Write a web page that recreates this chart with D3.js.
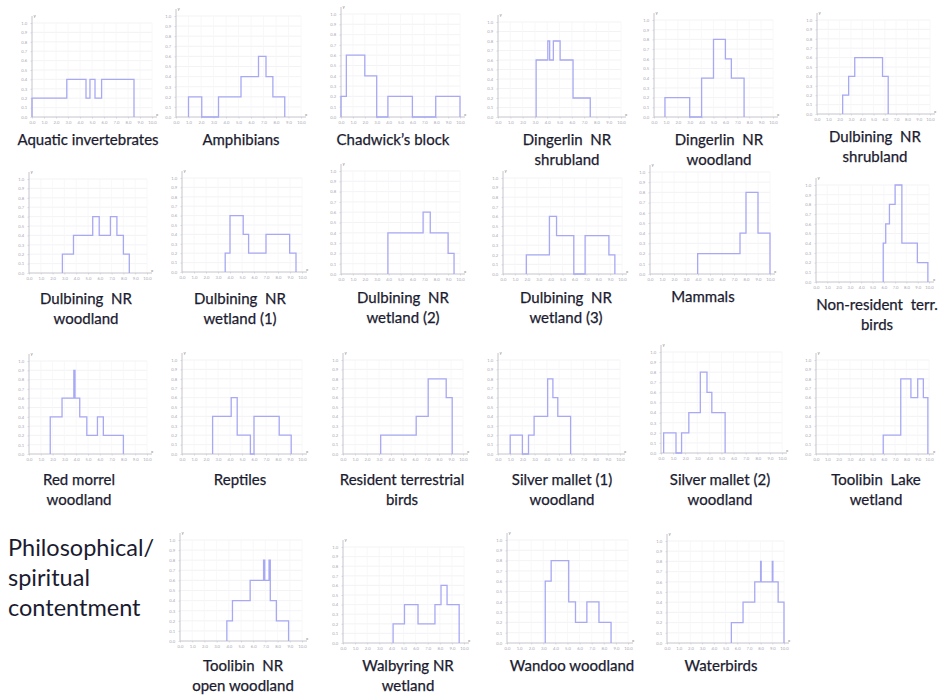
<!DOCTYPE html>
<html>
<head>
<meta charset="utf-8">
<script src="https://cdn.jsdelivr.net/npm/d3@7"></script>
<style>
  html, body { margin: 0; padding: 0; background: #fff; }
  svg { display: block; }
</style>
</head>
<body>
<div id="chart"></div>
<script>
// Small-multiple step histograms, one per habitat / group

// Each series: [x, level] pairs, level holds until the next x; last pair drops to 0
const aquaticInvertebrates = [[0, 0.2], [2.9, 0.4], [4.5, 0.2], [4.83, 0.4], [5.25, 0.2], [5.8, 0.4], [8.5, 0]];
const amphibians = [[1.0, 0.2], [2.06, 0], [3.4, 0.2], [5.2, 0.4], [6.6, 0.6], [7.2, 0.4], [7.75, 0.2], [8.7, 0]];
const chadwicksBlock = [[0, 0.2], [0.45, 0.6], [2.0, 0.4], [3.0, 0], [3.94, 0.2], [6.0, 0], [7.96, 0.2], [10, 0]];
const dingerlinShrubland = [[3.1, 0.6], [4.05, 0.8], [4.2, 0.6], [4.5, 0.8], [5.05, 0.6], [6.1, 0.2], [7.5, 0]];
const dingerlinWoodland = [[0.92, 0.2], [3.0, 0], [4.0, 0.4], [5.0, 0.8], [6.0, 0.6], [6.5, 0.4], [7.57, 0]];
const dulbiningShrubland = [[2.27, 0.2], [2.8, 0.4], [3.34, 0.6], [5.8, 0.4], [6.3, 0]];
const dulbiningWoodland = [[2.83, 0.2], [3.77, 0.4], [5.4, 0.6], [5.95, 0.4], [6.9, 0.6], [7.45, 0.4], [8.0, 0.2], [8.5, 0]];
const dulbiningWetland1 = [[3.6, 0.2], [4.0, 0.6], [5.1, 0.4], [5.55, 0.2], [7.0, 0.4], [8.97, 0.2], [9.5, 0]];
const dulbiningWetland2 = [[3.94, 0.4], [6.9, 0.6], [7.5, 0.4], [9.0, 0.2], [9.5, 0]];
const dulbiningWetland3 = [[1.96, 0.2], [3.9, 0.6], [4.5, 0.4], [5.95, 0], [6.9, 0.4], [8.9, 0.2], [9.4, 0]];
const mammals = [[3.97, 0.2], [7.5, 0.4], [8.0, 0.8], [9.0, 0.4], [10, 0]];
const nonResidentBirds = [[5.95, 0.4], [6.17, 0.6], [6.5, 0.8], [7.0, 1.0], [7.6, 0.4], [8.97, 0.2], [9.9, 0]];
const redMorrel = [[1.8, 0.4], [2.8, 0.6], [3.8, 0.9], [3.9, 0.6], [4.3, 0.4], [4.9, 0.2], [5.8, 0.4], [6.3, 0.2], [8.0, 0]];
const reptiles = [[2.55, 0.4], [4.1, 0.6], [4.6, 0.2], [5.7, 0], [6.0, 0.4], [8.1, 0.2], [9.1, 0]];
const residentBirds = [[3.14, 0.2], [6.1, 0.4], [7.1, 0.8], [8.6, 0.6], [9.1, 0]];
const silverMallet1 = [[1.0, 0.2], [2.0, 0], [2.5, 0.2], [2.96, 0.4], [4.07, 0.8], [4.5, 0.6], [4.9, 0.4], [5.95, 0]];
const silverMallet2 = [[0.22, 0.2], [1.24, 0], [1.7, 0.2], [2.3, 0.4], [3.25, 0.8], [3.8, 0.6], [4.2, 0.4], [5.3, 0]];
const toolibinLake = [[5.95, 0.2], [7.5, 0.8], [8.4, 0.6], [9.0, 0.8], [9.5, 0.6], [9.9, 0]];
const toolibinNR = [[3.84, 0.2], [4.3, 0.4], [5.75, 0.6], [6.85, 0.8], [6.95, 0.6], [7.3, 0.8], [7.4, 0.4], [7.9, 0.2], [8.9, 0]];
const walbyring = [[4.14, 0.2], [5.08, 0.4], [6.2, 0.2], [7.6, 0.4], [8.1, 0.6], [8.6, 0.4], [9.6, 0]];
const wandoo = [[3.16, 0.6], [3.65, 0.8], [5.1, 0.4], [5.66, 0.2], [6.6, 0.4], [7.6, 0.2], [8.6, 0]];
const waterbirds = [[5.5, 0.2], [6.5, 0.4], [7.5, 0.6], [8.0, 0.8], [8.05, 0.6], [9.0, 0.8], [9.05, 0.6], [9.5, 0.4], [10, 0]];

const titles = [
  ["Aquatic invertebrates"], ["Amphibians"], ["Chadwick\u2019s block"],
  ["Dingerlin  NR", "shrubland"], ["Dingerlin  NR", "woodland"], ["Dulbining  NR", "shrubland"],
  ["Dulbining  NR", "woodland"], ["Dulbining  NR", "wetland (1)"], ["Dulbining  NR", "wetland (2)"],
  ["Dulbining  NR", "wetland (3)"], ["Mammals"], ["Non-resident  terr.", "birds"],
  ["Red morrel", "woodland"], ["Reptiles"], ["Resident terrestrial", "birds"],
  ["Silver mallet (1)", "woodland"], ["Silver mallet (2)", "woodland"], ["Toolibin  Lake", "wetland"],
  ["Toolibin  NR", "open woodland"], ["Walbyring NR", "wetland"], ["Wandoo woodland"], ["Waterbirds"]
];

const series = [
  aquaticInvertebrates, amphibians, chadwicksBlock, dingerlinShrubland, dingerlinWoodland, dulbiningShrubland,
  dulbiningWoodland, dulbiningWetland1, dulbiningWetland2, dulbiningWetland3, mammals, nonResidentBirds,
  redMorrel, reptiles, residentBirds, silverMallet1, silverMallet2, toolibinLake,
  toolibinNR, walbyring, wandoo, waterbirds
];

const xTicks = [0, 1, 2, 3, 4, 5, 6, 7, 8, 9, 10];
const yTicks = [0, 0.1, 0.2, 0.3, 0.4, 0.5, 0.6, 0.7, 0.8, 0.9, 1.0];
const heading = ["Philosophical/", "spiritual", "contentment"];

// panel placement: y-axis x, x-axis y, width of 0..10, height of 0..1, title centre x, title top y
const layout = [
  [32, 117, 120, 94, 88, 145], [176, 117, 125, 101, 241, 145], [341, 117, 119, 103, 393, 145],
  [498, 117, 123, 95, 567, 145], [654, 117, 119, 97, 719, 145], [817, 114, 113, 94, 875, 142],
  [29, 273, 118, 94, 86, 304], [182, 272, 120, 94, 240, 304], [341, 274, 119, 103, 403, 303],
  [503, 274, 119, 96, 566, 303], [650, 274, 120, 102, 703, 302], [816, 282, 113, 97, 877, 310],
  [29, 454, 118, 93, 79, 485], [182, 454, 120, 94, 240, 485], [343, 454, 120, 94, 402, 485],
  [498, 454, 122, 94, 562, 485], [661, 453, 121, 101, 720, 485], [816, 454, 113, 94, 876, 485],
  [180, 641, 122, 101, 243, 671], [343, 643, 121, 96, 408, 671], [507, 643, 121, 103, 572, 671], [667, 643, 117, 102, 721, 671]
];

const W = 940, H = 697;
const lineColor = "#a8a8f4";
const textColor = "#1b1b30";
const fontFamily = "Lato, 'Noto Sans', sans-serif";

const svg = d3.select("#chart").append("svg")
  .attr("width", W)
  .attr("height", H);

svg.append("rect").attr("width", W).attr("height", H).attr("fill", "#fff");

series.forEach((data, i) => {
  const [x0, base, w, h, labelX, labelY] = layout[i];
  const x = d3.scaleLinear().domain([0, 10]).range([x0, x0 + w]);
  const y = d3.scaleLinear().domain([0, 1]).range([base, base - h]);
  const g = svg.append("g");

  // faint grid
  g.append("g").selectAll("line").data(yTicks.slice(1)).enter().append("line")
    .attr("x1", x(0)).attr("x2", x(10))
    .attr("y1", d => y(d)).attr("y2", d => y(d))
    .attr("stroke", "#f0f0f4").attr("stroke-width", 0.8);
  g.append("g").selectAll("line").data(xTicks.slice(1)).enter().append("line")
    .attr("x1", d => x(d)).attr("x2", d => x(d))
    .attr("y1", y(0)).attr("y2", y(1))
    .attr("stroke", "#f6f6f8").attr("stroke-width", 0.8);

  // axes
  const xAxis = d3.axisBottom(x).tickValues(xTicks).tickFormat(d3.format(".1f")).tickSize(1.5);
  const yAxis = d3.axisLeft(y).tickValues(yTicks).tickFormat(d3.format(".1f")).tickSize(1.5);

  const gx = g.append("g").attr("transform", `translate(0,${base})`).call(xAxis);
  const gy = g.append("g").attr("transform", `translate(${x0},0)`).call(yAxis);
  [gx, gy].forEach(a => {
    a.select(".domain").remove();
    a.selectAll("line").attr("stroke", "#c4c4cc").attr("stroke-width", 0.6);
    a.selectAll("text").attr("fill", "#a8a8b4").attr("font-size", 4.2).attr("font-family", fontFamily);
  });
  gx.selectAll("text").attr("dy", "0.5em");
  gy.selectAll("text").attr("dx", "-0.1em");

  g.append("line")
    .attr("x1", x0).attr("x2", x0)
    .attr("y1", base).attr("y2", y(1) - 7)
    .attr("stroke", "#c0c0c8").attr("stroke-width", 0.9);
  g.append("line")
    .attr("x1", x0).attr("x2", x(10) + 5)
    .attr("y1", base).attr("y2", base)
    .attr("stroke", "#c0c0c8").attr("stroke-width", 0.9);
  g.append("text").attr("x", x0 + 1.5).attr("y", y(1) - 6)
    .attr("font-size", 4.5).attr("fill", "#888").attr("font-family", fontFamily).text("y");
  g.append("text").attr("x", x(10) + 4).attr("y", base - 1.5)
    .attr("font-size", 4.5).attr("fill", "#888").attr("font-family", fontFamily).text("x");

  // step line
  const pts = [[data[0][0], 0]].concat(data);
  const line = d3.line()
    .x(d => x(d[0]))
    .y(d => y(d[1]))
    .curve(d3.curveStepAfter);
  g.append("path")
    .attr("d", line(pts))
    .attr("fill", "none")
    .attr("stroke", lineColor)
    .attr("stroke-width", 1.3);

  // title
  const t = g.append("text")
    .attr("text-anchor", "middle")
    .attr("font-family", fontFamily)
    .attr("font-size", 15)
    .attr("fill", textColor)
    .attr("stroke", textColor)
    .attr("stroke-width", 0.25);
  titles[i].forEach((s, k) => {
    t.append("tspan")
      .attr("x", labelX)
      .attr("y", labelY + k * 19.5)
      .attr("xml:space", "preserve")
      .text(s);
  });
});

// row heading on the left
const hd = svg.append("text")
  .attr("font-family", fontFamily)
  .attr("font-size", 23.5)
  .attr("fill", textColor);
heading.forEach((s, k) => {
  hd.append("tspan").attr("x", 8).attr("y", 556 + k * 30).text(s);
});
</script>
</body>
</html>
